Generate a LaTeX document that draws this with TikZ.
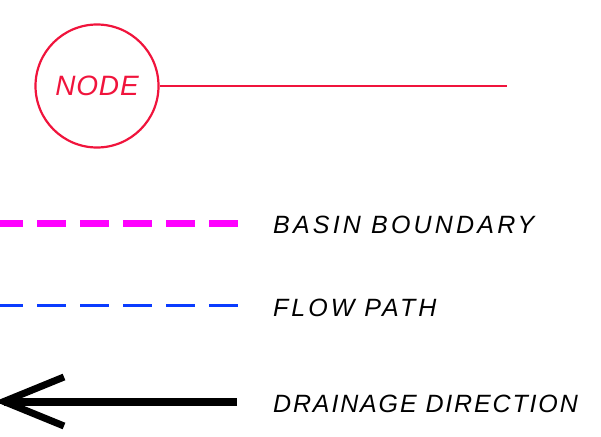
\documentclass[tikz,border=0pt]{standalone}
\usepackage{fontspec}
\setmainfont{Liberation Sans}
\newfontfamily\legfont{Liberation Sans Italic}
\definecolor{nodered}{RGB}{240,20,60}
\definecolor{basinmag}{RGB}{255,0,255}
\definecolor{flowblue}{RGB}{10,60,255}
\begin{document}
\begin{tikzpicture}[x=1pt,y=-1pt,
  legtext/.style={anchor=base west,inner sep=0pt,font=\legfont\fontsize{25}{25}\selectfont},
  sampledash/.style={dash pattern=on 29pt off 14pt}]
\useasboundingbox (0,0) rectangle (601,436);
% node symbol
\node[circle,draw=nodered,line width=2.2pt,minimum size=123pt,inner sep=0pt,
  text=nodered,font=\legfont\fontsize{28}{28}\selectfont\addfontfeature{LetterSpace=3}] (nd) at (97,86) {NODE};
\coordinate (ndend) at (507,86);
\draw[nodered,line width=2.2pt] (nd.east) -- (ndend);
% basin boundary
\coordinate (b1) at (-6,223);
\coordinate (b2) at (238,223);
\draw[basinmag,line width=7pt,sampledash] (b1) -- (b2);
\node[legtext] (bt) at (273,233) {\addfontfeature{LetterSpace=12.8}BASIN BOUNDARY};
% flow path
\coordinate (f1) at (-6,305.5);
\coordinate (f2) at (238,305.5);
\draw[flowblue,line width=3.5pt,sampledash] (f1) -- (f2);
\node[legtext] (ft) at (273,316) {\addfontfeature{LetterSpace=12}FLOW PATH};
% drainage direction
\coordinate (a1) at (237,401.5);
\coordinate (a0) at (4,401.5);
\coordinate (au) at (64,377);
\coordinate (ad) at (64,426);
\draw[black,line width=8pt] (a1) -- (a0);
\draw[black,line width=7pt,line join=miter] (au) -- (a0) -- (ad);
\node[legtext] (dt) at (273,412) {\addfontfeature{LetterSpace=7.4}DRAINAGE DIRECTION};
\end{tikzpicture}
\end{document}
